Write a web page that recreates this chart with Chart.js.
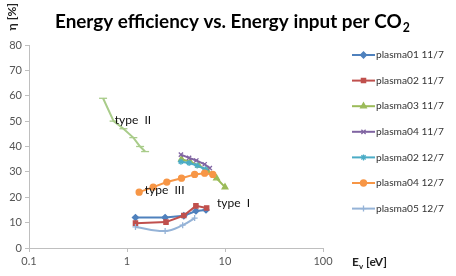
<!DOCTYPE html>
<html>
<head>
<meta charset="utf-8">
<script src="https://cdn.jsdelivr.net/npm/chart.js@4/dist/chart.umd.min.js"></script>
<style>
  html, body { margin: 0; padding: 0; background: #fff; }
  canvas { display: block; }
</style>
</head>
<body>
<canvas id="chart" width="456" height="276"></canvas>
<script>
// axis ticks
const xTicks = [0.1, 1, 10, 100];
const yMin = 0, yMax = 80, yStep = 10;

// series (E_v [eV] -> eta [%])
const p01_11_x = [1.22, 2.45, 3.8, 5.05, 6.4];
const p01_11_y = [12, 12, 12.7, 14.6, 15];
const p02_11_x = [1.22, 2.5, 3.8, 5.05, 6.5];
const p02_11_y = [9.8, 10.2, 12.8, 16.6, 15.8];
const p03_11_x = [3.6, 4.4, 5.4, 6.6, 8.2, 10];
const p03_11_y = [35, 34, 32.5, 30.5, 27.5, 24];
const p04_11_x = [3.55, 4.3, 5.1, 6.2, 7.0];
const p04_11_y = [36.8, 35.5, 34.5, 33, 31.5];
const p02_12_x = [3.55, 4.3, 5.2, 6.3];
const p02_12_y = [34, 33.5, 32.5, 31];
const p04_12_x = [1.33, 1.85, 2.55, 3.6, 4.9, 6.2, 7.5];
const p04_12_y = [22, 24, 26, 27.5, 29, 29.5, 29];
const p05_12_x = [1.22, 2.45, 3.7, 4.9];
const p05_12_y = [8.3, 6.7, 9, 11.8];
const typeII_x = [0.57, 0.73, 0.92, 1.16, 1.36, 1.53];
const typeII_y = [59, 50, 47, 43.5, 40, 38];

// text notes placed in data coordinates
const notes = [
    { text: 'type  II',  x: 0.75, y: 50.5 },
    { text: 'type  III', x: 1.52, y: 23 },
    { text: 'type  I',   x: 8.3,  y: 17.5 }
];

const FONT = 'Lato, "Open Sans", sans-serif';

const pts = (xs, ys) => xs.map((x, i) => ({ x: x, y: ys[i] }));

const series = [
    { label: 'plasma01 11/7', data: pts(p01_11_x, p01_11_y), color: '#4F81BD', style: 'rectRot',  r: 3 },
    { label: 'plasma02 11/7', data: pts(p02_11_x, p02_11_y), color: '#C0504D', style: 'rect',     r: 3 },
    { label: 'plasma03 11/7', data: pts(p03_11_x, p03_11_y), color: '#9BBB59', style: 'triangle', r: 3.3 },
    { label: 'plasma04 11/7', data: pts(p04_11_x, p04_11_y), color: '#8064A2', style: 'crossRot', r: 3 },
    { label: 'plasma02 12/7', data: pts(p02_12_x, p02_12_y), color: '#4BACC6', style: 'star',     r: 3 },
    { label: 'plasma04 12/7', data: pts(p04_12_x, p04_12_y), color: '#F79646', style: 'circle',   r: 3 },
    { label: 'plasma05 12/7', data: pts(p05_12_x, p05_12_y), color: '#95B3D7', style: 'cross',    r: 3, tension: 0.4 },
    { label: '', data: pts(typeII_x, typeII_y), color: '#A9CC8A', style: 'line', r: 4, hidden: true }
];

const datasets = series.map((s, i) => ({
    label: s.label,
    data: s.data,
    borderColor: s.color,
    backgroundColor: s.color,
    borderWidth: 2,
    pointStyle: s.style,
    pointRadius: s.r,
    pointBackgroundColor: s.color,
    pointBorderColor: s.color,
    pointBorderWidth: 1.3,
    tension: s.tension || 0,
    showLine: true,
    order: series.length - i,
    noLegend: !!s.hidden
}));

const decor = {
    id: 'decor',
    afterDraw(chart) {
        const ctx = chart.ctx;
        const xs = chart.scales.x, ys = chart.scales.y;
        ctx.save();

        // title
        const t1 = 'Energy efficiency vs. Energy input per CO';
        ctx.font = 'bold 18px ' + FONT;
        let w = ctx.measureText(t1).width;
        const size = 18 * 347 / w;
        ctx.font = 'bold ' + size.toFixed(2) + 'px ' + FONT;
        w = ctx.measureText(t1).width;
        ctx.fillStyle = '#000';
        ctx.textBaseline = 'alphabetic';
        ctx.textAlign = 'left';
        ctx.fillText(t1, 55, 28);
        ctx.font = 'bold ' + (size * 0.65).toFixed(2) + 'px ' + FONT;
        ctx.fillText('2', 55 + w + 1, 32);

        // y title
        ctx.save();
        ctx.translate(12, 3);
        ctx.rotate(-Math.PI / 2);
        ctx.font = 'bold 12px ' + FONT;
        ctx.textAlign = 'right';
        ctx.textBaseline = 'middle';
        ctx.fillStyle = '#222';
        ctx.fillText('η [%]', 0, 0);
        ctx.restore();

        // x title
        ctx.font = 'bold 12px ' + FONT;
        ctx.textAlign = 'left';
        ctx.textBaseline = 'alphabetic';
        ctx.fillStyle = '#222';
        ctx.fillText('E', 352, 266);
        const ew = ctx.measureText('E').width;
        ctx.font = 'bold 8px ' + FONT;
        ctx.fillText('v', 352 + ew, 269);
        const vw = ctx.measureText('v').width;
        ctx.font = 'bold 12px ' + FONT;
        ctx.fillText(' [eV]', 352 + ew + vw, 266);

        // notes
        ctx.font = '12px ' + FONT;
        ctx.fillStyle = '#111';
        ctx.textBaseline = 'middle';
        notes.forEach(n => {
            ctx.fillText(n.text, xs.getPixelForValue(n.x), ys.getPixelForValue(n.y));
        });

        // legend
        let ly = 55;
        chart.data.datasets.forEach(ds => {
            if (ds.noLegend) return;
            ctx.strokeStyle = ds.borderColor;
            ctx.lineWidth = 2;
            ctx.beginPath();
            ctx.moveTo(352, ly);
            ctx.lineTo(375, ly);
            ctx.stroke();
            if (Chart.helpers && Chart.helpers.drawPoint) {
                ctx.fillStyle = ds.pointBackgroundColor;
                ctx.strokeStyle = ds.pointBorderColor;
                ctx.lineWidth = 1.3;
                Chart.helpers.drawPoint(ctx, {
                    pointStyle: ds.pointStyle, radius: ds.pointRadius, rotation: 0, borderWidth: 1.3
                }, 363.5, ly);
            }
            ctx.fillStyle = '#333';
            ctx.font = '10.2px ' + FONT;
            ctx.textAlign = 'left';
            ctx.textBaseline = 'middle';
            ctx.fillText(ds.label, 376, ly);
            ly += 25.6;
        });
        ctx.restore();
    }
};

new Chart(document.getElementById('chart'), {
    type: 'scatter',
    data: { datasets: datasets },
    options: {
        responsive: false,
        animation: false,
        layout: { padding: { top: 45, right: 133, left: 0, bottom: 0 } },
        plugins: {
            legend: { display: false },
            tooltip: { enabled: false },
            title: { display: false }
        },
        scales: {
            x: {
                type: 'logarithmic',
                min: xTicks[0],
                max: xTicks[xTicks.length - 1],
                afterBuildTicks: s => { s.ticks = xTicks.map(v => ({ value: v })); },
                afterFit: s => { s.height = 28; },
                ticks: {
                    color: '#555',
                    font: { family: FONT, size: 11 },
                    padding: 3,
                    autoSkip: false,
                    maxRotation: 0,
                    callback: v => String(v)
                },
                grid: { display: true, drawOnChartArea: false, drawTicks: true, tickLength: 4, color: '#bfbfbf' },
                border: { display: true, color: '#bfbfbf', width: 1 }
            },
            y: {
                min: yMin,
                max: yMax,
                afterFit: s => { s.width = 29; },
                ticks: {
                    stepSize: yStep,
                    color: '#555',
                    font: { family: FONT, size: 11 },
                    padding: 3
                },
                grid: { display: true, drawOnChartArea: false, drawTicks: true, tickLength: 4, color: '#bfbfbf' },
                border: { display: true, color: '#bfbfbf', width: 1 }
            }
        }
    },
    plugins: [decor]
});
</script>
</body>
</html>
